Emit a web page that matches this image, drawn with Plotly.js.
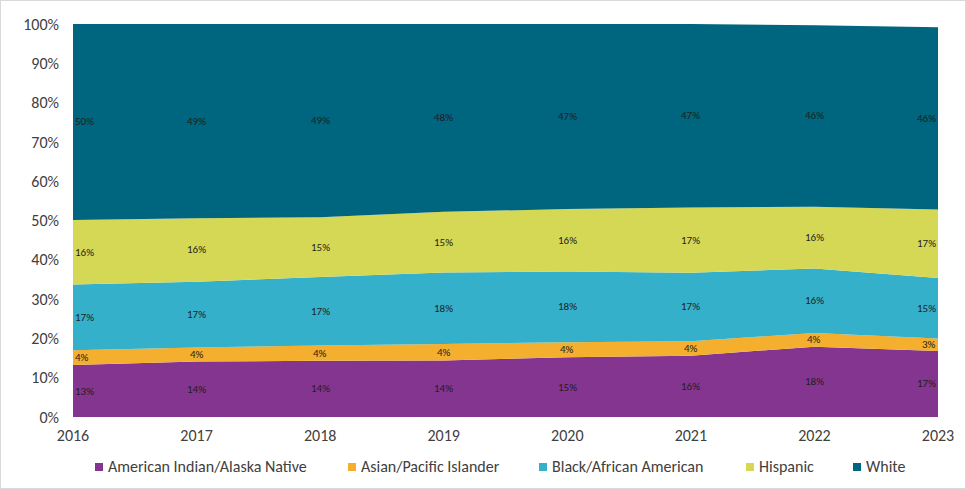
<!DOCTYPE html>
<html>
<head>
<meta charset="utf-8">
<script src="https://cdn.plot.ly/plotly-3.0.1.min.js"></script>
<style>
  html, body { margin: 0; padding: 0; background: #fff; }
  #chart { width: 964px; height: 487px; border: 1px solid #d9d9d9; }
</style>
</head>
<body>
<div id="chart"></div>
<script>
const years = [2016, 2017, 2018, 2019, 2020, 2021, 2022, 2023];
const seriesNames = ["American Indian/Alaska Native", "Asian/Pacific Islander", "Black/African American", "Hispanic", "White"];
const aian     = [13.2, 14.1, 14.3, 14.4, 15.2, 15.6, 17.9, 16.8];
const api      = [3.8, 3.6, 3.9, 4.2, 3.8, 3.7, 3.5, 3.2];
const black    = [16.7, 16.7, 17.4, 18.2, 18.0, 17.4, 16.4, 15.4];
const hispanic = [16.4, 16.2, 15.2, 15.4, 15.9, 16.6, 15.7, 17.4];
const white    = [50.0, 49.4, 49.2, 47.8, 47.1, 46.7, 46.2, 46.4];
const colors = ["#84358F", "#F5AF2E", "#35B0CA", "#D5D855", "#00657E"];
const yTickVals = [0, 10, 20, 30, 40, 50, 60, 70, 80, 90, 100];

const seriesValues = [aian, api, black, hispanic, white];
const FONT = "Calibri, Carlito, Lato, 'Open Sans', sans-serif";
const W = 964, H = 487;
const M = { l: 72, r: 27, t: 23, b: 71 };

const traces = seriesValues.map((vals, s) => ({
  type: "scatter", x: years, y: vals, stackgroup: "one",
  mode: "none", fillcolor: colors[s], name: seriesNames[s],
  showlegend: false, hoverinfo: "skip"
}));

// data labels, centred in each band
const annotations = [];
years.forEach((yr, i) => {
  let base = 0;
  seriesValues.forEach((vals) => {
    const v = vals[i];
    annotations.push({
      x: yr, y: base + v / 2, xref: "x", yref: "y",
      text: Math.round(v) + "%", showarrow: false,
      xanchor: i === 0 ? "left" : (i === years.length - 1 ? "right" : "center"),
      yanchor: "middle",
      font: { family: FONT, size: 11, color: "#1f1f1f" }
    });
    base += v;
  });
});

// legend drawn as small squares + labels (layout positions in px of the page)
const legendLeft = [95, 348, 539, 746, 853];
const legY = 467;
const sq = 8;
const toPX = px => (px - 1 - M.l) / (W - M.l - M.r);
const toPY = py => 1 - (py - 1 - M.t) / (H - M.t - M.b);
const shapes = [];
seriesNames.forEach((n, s) => {
  const x0 = legendLeft[s];
  shapes.push({
    type: "rect", xref: "paper", yref: "paper",
    x0: toPX(x0), x1: toPX(x0 + sq), y0: toPY(legY + sq / 2), y1: toPY(legY - sq / 2),
    fillcolor: colors[s], line: { width: 0 }
  });
  annotations.push({
    xref: "paper", yref: "paper", x: toPX(x0 + sq + 3), y: toPY(legY),
    xanchor: "left", yanchor: "middle", showarrow: false, text: n,
    font: { family: FONT, size: 16, color: "#404040" }
  });
});

const layout = {
  width: W, height: H,
  margin: M,
  paper_bgcolor: "#fff", plot_bgcolor: "#fff",
  font: { family: FONT, color: "#595959", size: 14 },
  xaxis: {
    range: [years[0], years[years.length - 1]], tickvals: years,
    ticktext: years.map(String),
    showgrid: false, zeroline: false, showline: false, ticks: "",
    tickfont: { family: FONT, size: 16, color: "#404040" },
    ticklabelstandoff: 7, fixedrange: true, automargin: false
  },
  yaxis: {
    range: [0, 100], tickvals: yTickVals,
    ticktext: yTickVals.map(v => v + "%"),
    showgrid: false, zeroline: false, showline: false, ticks: "",
    tickfont: { family: FONT, size: 16, color: "#404040" },
    ticklabelstandoff: 13, fixedrange: true, automargin: false
  },
  showlegend: false,
  shapes: shapes,
  annotations: annotations,
  hovermode: false
};

Plotly.newPlot("chart", traces, layout, { displayModeBar: false, staticPlot: true });
</script>
</body>
</html>
